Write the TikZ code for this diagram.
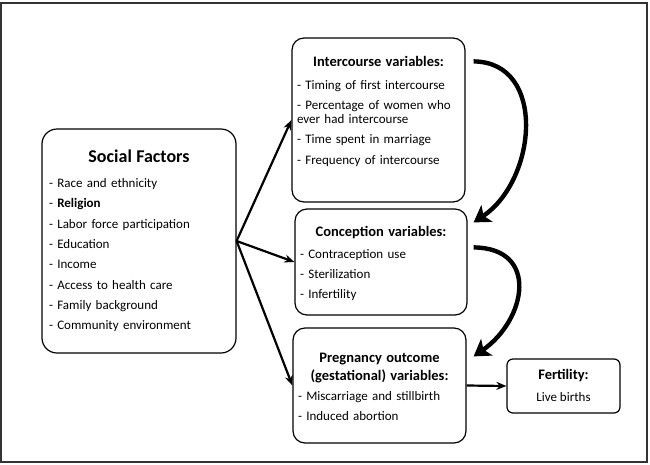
\documentclass[tikz,border=0pt]{standalone}
\usepackage{fontspec}
\setmainfont{Carlito}
\usetikzlibrary{arrows.meta}

\newcommand{\itemfont}{\fontsize{13}{14.3}\selectfont}
\newcommand{\headfont}{\fontsize{14.5}{18}\selectfont\bfseries}

\tikzset{
  box/.style={draw, line width=1.2pt, rounded corners=12pt, inner sep=0pt},
  boxtext/.style={anchor=north, inner sep=0pt, align=left, font=\itemfont},
  link/.style={line width=2.2pt, -{Stealth[length=10pt,width=8pt]}},
  bigarc/.style={line width=4.4pt, -{Stealth[length=16pt,width=20pt,inset=4pt]}},
}

\begin{document}
\begin{tikzpicture}[x=1pt,y=-1pt]
  \useasboundingbox (0,0) rectangle (650,464);
  \draw[line width=1.6pt,black!80] (1,3) rectangle (647,462);

  % boxes
  \node[box, rounded corners=15pt, minimum width=194pt, minimum height=224pt] (soc) at (139,241) {};
  \node[box, minimum width=173pt, minimum height=164pt] (int) at (378.5,120) {};
  \node[box, minimum width=172pt, minimum height=106pt] (conc) at (381,262) {};
  \node[box, minimum width=173pt, minimum height=115pt] (preg) at (379.5,385.5) {};
  \node[box, rounded corners=6pt, minimum width=113pt, minimum height=54pt] (fert) at (563.5,386) {};

  % texts
  \node[boxtext, text width=180pt] (soc-txt) at ([shift={(0,21.5)}]soc.north) {%
    {\centering\fontsize{18}{20}\selectfont\bfseries Social Factors\par}
    \vspace{10.5pt}
    - Race and ethnicity\\[6pt]
    - \textbf{Religion}\\[6pt]
    - Labor force participation\\[6pt]
    - Education\\[6pt]
    - Income\\[6pt]
    - Access to health care\\[6pt]
    - Family background\\[6pt]
    - Community environment};
  \node[boxtext, text width=163pt] (int-txt) at ([shift={(0,19)}]int.north) {%
    {\centering\headfont Intercourse variables:\par}
    \vspace{8pt}
    - Timing of first intercourse\\[6pt]
    - Percentage of women who\\ever had intercourse\\[6pt]
    - Time spent in marriage\\[6pt]
    - Frequency of intercourse};
  \node[boxtext, text width=162pt] (conc-txt) at ([shift={(0,17.5)}]conc.north) {%
    {\centering\headfont Conception variables:\par}
    \vspace{7.5pt}
    - Contraception use\\[6pt]
    - Sterilization\\[6pt]
    - Infertility};
  \node[boxtext, text width=163pt] (preg-txt) at ([shift={(0,25)}]preg.north) {%
    {\centering\headfont Pregnancy outcome\\(gestational) variables:\par}
    \vspace{6pt}
    - Miscarriage and stillbirth\\[6pt]
    - Induced abortion};
  \node[boxtext, align=center] (fert-txt) at ([shift={(0,11)}]fert.north) {%
    {\headfont Fertility:}\\[7pt]Live births};

  % straight arrows
  \draw[link] (soc.east) -- (int.west);
  \draw[link] (soc.east) -- (conc.west);
  \draw[link] (soc.east) -- (preg.west);
  \draw[link] (preg.east) -- (fert.west);

  % curved arrows
  \coordinate (arcA1) at ([shift={(8,24)}]int.north east);
  \coordinate (arcA2) at ([shift={(6,14)}]conc.north east);
  \coordinate (arcB1) at ([shift={(6,39)}]conc.north east);
  \coordinate (arcB2) at ([shift={(7,29)}]preg.north east);
  \draw[bigarc] (arcA1) .. controls (547,62) and (537,180) .. (arcA2);
  \draw[bigarc] (arcB1) .. controls (540,248) and (526,320) .. (arcB2);
\end{tikzpicture}
\end{document}
